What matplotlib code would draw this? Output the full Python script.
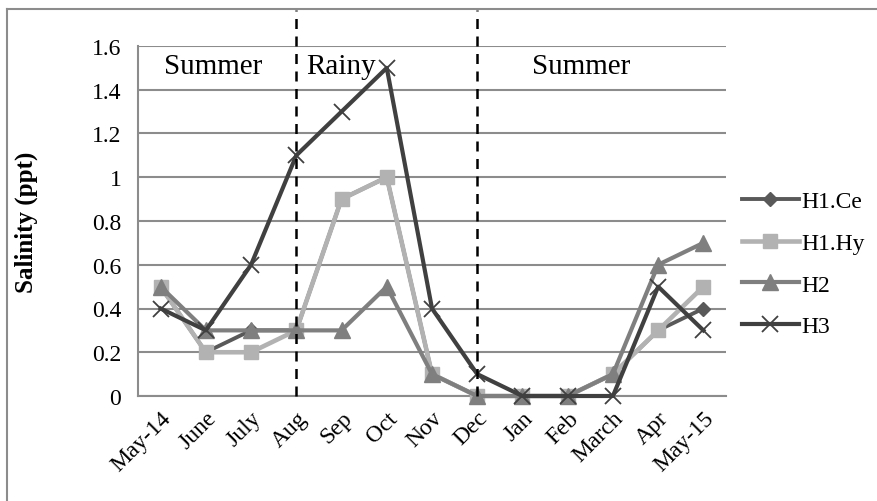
import numpy as np
import matplotlib
matplotlib.use("Agg")
import matplotlib.pyplot as plt
from matplotlib.lines import Line2D

plt.rcParams["font.family"] = ["Liberation Serif", "DejaVu Serif"]

months = ["May-14", "June", "July", "Aug", "Sep", "Oct", "Nov", "Dec",
          "Jan", "Feb", "March", "Apr", "May-15"]
h1_ce = [0.5, 0.2, 0.3, 0.3, 0.9, 1.0, 0.1, 0, 0, 0, 0.1, 0.3, 0.4]
h1_hy = [0.5, 0.2, 0.2, 0.3, 0.9, 1.0, 0.1, 0, 0, 0, 0.1, 0.3, 0.5]
h2 = [0.5, 0.3, 0.3, 0.3, 0.3, 0.5, 0.1, 0, 0, 0, 0.1, 0.6, 0.7]
h3 = [0.4, 0.3, 0.6, 1.1, 1.3, 1.5, 0.4, 0.1, 0, 0, 0, 0.5, 0.3]
season_breaks = [3, 7]
seasons = [("Summer", 1.15), ("Rainy", 4.0), ("Summer", 9.3)]

W, H = 878, 502
fig = plt.figure(figsize=(W / 100, H / 100), dpi=100)
ax = fig.add_axes([138 / W, 1 - 397 / H, (726 - 138) / W, (397 - 47) / H])

# outer chart border (left + top visible)
fig.add_artist(Line2D([7 / W, 7 / W], [0, 1 - 10 / H], transform=fig.transFigure,
                      color="#8c8c8c", lw=1.5))
fig.add_artist(Line2D([7 / W, 1], [1 - 10 / H, 1 - 10 / H], transform=fig.transFigure,
                      color="#8c8c8c", lw=1.5))

x = np.arange(len(months))
series = [
    ("H1.Ce", h1_ce, "#595959", "D", 7, 2.8),
    ("H1.Hy", h1_hy, "#b2b2b2", "s", 10, 3.3),
    ("H2", h2, "#7f7f7f", "^", 12, 3),
    ("H3", h3, "#404040", "x", 12, 3),
]
for name, vals, col, mk, ms, lw in series:
    ax.plot(x, vals, color=col, lw=lw, marker=mk, ms=ms, mec=col,
            mew=1.3 if mk == "x" else 1, label=name, zorder=3, clip_on=False)

ax.set_xlim(-0.5, len(months) - 0.5)
ax.set_ylim(0, 1.6)
ax.set_yticks(np.arange(0, 1.61, 0.2))
ax.set_yticklabels(["0", "0.2", "0.4", "0.6", "0.8", "1", "1.2", "1.4", "1.6"])
ax.set_xticks(x)
ax.set_xticklabels(months, rotation=45, ha="right", rotation_mode="anchor")
ax.tick_params(axis="both", length=0, labelsize=17)
ax.tick_params(axis="y", pad=12)
ax.tick_params(axis="x", pad=8)
ax.grid(axis="y", color="#8c8c8c", lw=1.5)
ax.set_axisbelow(True)
for s in ["top", "right"]:
    ax.spines[s].set_visible(False)
for s in ["left", "bottom"]:
    ax.spines[s].set_color("#8c8c8c")
    ax.spines[s].set_linewidth(1.5)

ax.set_ylabel("Salinity (ppt)", fontsize=18, fontweight="bold")
ax.yaxis.set_label_coords(-0.17, 0.5)

# season dividers, running up to the chart border
for b in season_breaks:
    ax.plot([b, b], [0, 1.765], color="black", lw=1.8, ls=(0, (4, 3)),
            clip_on=False, zorder=4)
for name, xpos in seasons:
    ax.text(xpos, 1.51, name, fontsize=21, ha="center", va="center", zorder=5)

ax.legend(loc="center left", bbox_to_anchor=(742 / W, 1 - 265 / H),
          bbox_transform=fig.transFigure, frameon=False, borderaxespad=0,
          borderpad=0, fontsize=17, handlelength=2.4, handletextpad=0.1,
          labelspacing=0.85)

fig.savefig("out.png", dpi=100)
